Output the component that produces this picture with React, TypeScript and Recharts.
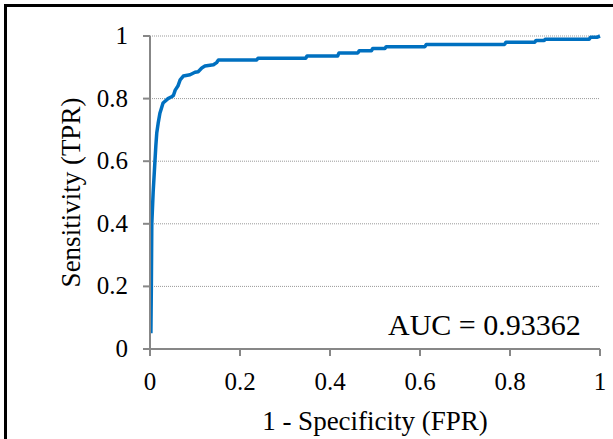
import React from "react";
import { LineChart, Line, XAxis, YAxis, CartesianGrid, Label } from "recharts";

// ROC curve points
const fpr = [
  0.002, 0.003, 0.004, 0.007, 0.011, 0.013, 0.015, 0.018, 0.022, 0.029, 0.04,
  0.048, 0.052, 0.056, 0.062, 0.067, 0.074, 0.089, 0.1, 0.107, 0.115, 0.122,
  0.141, 0.148, 0.152, 0.237, 0.24, 0.346, 0.349, 0.417, 0.42, 0.462, 0.465,
  0.492, 0.495, 0.522, 0.525, 0.611, 0.614, 0.788, 0.791, 0.855, 0.858, 0.876,
  0.879, 0.976, 0.979, 0.993, 1.0,
];
const tpr = [
  0.05, 0.2, 0.4, 0.5, 0.6, 0.65, 0.69, 0.72, 0.753, 0.786, 0.8, 0.806, 0.81,
  0.827, 0.84, 0.86, 0.872, 0.876, 0.884, 0.886, 0.898, 0.904, 0.908, 0.915,
  0.923, 0.923, 0.929, 0.929, 0.936, 0.936, 0.946, 0.946, 0.953, 0.953, 0.96,
  0.96, 0.966, 0.966, 0.973, 0.973, 0.98, 0.98, 0.986, 0.986, 0.99, 0.99,
  0.996, 0.996, 1.0,
];
const ticks = [0, 0.2, 0.4, 0.6, 0.8, 1];
const aucText = "AUC = 0.93362";

const data = fpr.map((x, i) => ({ fpr: x, tpr: tpr[i] }));

const FONT = "Liberation Serif, serif";
const AXIS = "#878787";

const XTick = (props: any) => {
  const { x, y, payload } = props;
  return (
    <text x={x} y={y} dy={20} textAnchor="middle" fontFamily={FONT} fontSize={25} fill="#000">
      {payload.value}
    </text>
  );
};

const YTick = (props: any) => {
  const { x, y, payload } = props;
  return (
    <text x={x} y={y} dy={8} textAnchor="end" fontFamily={FONT} fontSize={25} fill="#000">
      {payload.value}
    </text>
  );
};

export default function App() {
  return (
    <div style={{ position: "absolute", left: 0, top: 0, width: 613, height: 439, background: "#fff", fontFamily: FONT }}>
      <div
        style={{
          position: "absolute",
          left: 4,
          top: 4,
          width: 609,
          height: 435,
          borderLeft: "3px solid #000",
          borderTop: "3px solid #000",
        }}
      />
      <LineChart width={613} height={439} data={data} margin={{ top: 36, right: 13, left: 0, bottom: 0 }}>
        <CartesianGrid vertical={false} stroke="#999" strokeDasharray="1 1" />
        <XAxis
          dataKey="fpr"
          type="number"
          domain={[0, 1]}
          ticks={ticks}
          height={90}
          stroke={AXIS}
          strokeWidth={2}
          tickSize={7}
          tickMargin={14}
          tick={<XTick />}
        >
          <Label
            content={(props: any) => {
              const vb = props.viewBox || { x: 150, y: 349, width: 450, height: 90 };
              const cx = vb.x + vb.width / 2;
              const cy = vb.y + vb.height - 9;
              return (
                <text x={cx} y={cy} textAnchor="middle" fontFamily={FONT} fontSize={27} fill="#000">
                  1 - Specificity (FPR)
                </text>
              );
            }}
          />
        </XAxis>
        <YAxis
          type="number"
          domain={[0, 1]}
          ticks={ticks}
          width={150}
          stroke={AXIS}
          strokeWidth={2}
          tickSize={7}
          tickMargin={15}
          tick={<YTick />}
        >
          <Label
            content={(props: any) => {
              const vb = props.viewBox || { x: 0, y: 36, height: 313 };
              const cx = vb.x + 80;
              const cy = vb.y + vb.height / 2;
              return (
                <text
                  x={cx}
                  y={cy}
                  transform={`rotate(-90 ${cx} ${cy})`}
                  textAnchor="middle"
                  fontFamily={FONT}
                  fontSize={27}
                  fill="#000"
                >
                  Sensitivity (TPR)
                </text>
              );
            }}
          />
        </YAxis>
        <Line
          type="linear"
          dataKey="tpr"
          stroke="#0070C0"
          strokeWidth={3.5}
          strokeLinejoin="round"
          dot={false}
          activeDot={false}
          isAnimationActive={false}
        />
      </LineChart>
      <div
        style={{
          position: "absolute",
          left: 388,
          top: 310,
          fontSize: 30,
          lineHeight: "30px",
          color: "#000",
          whiteSpace: "nowrap",
        }}
      >
        {aucText}
      </div>
    </div>
  );
}
